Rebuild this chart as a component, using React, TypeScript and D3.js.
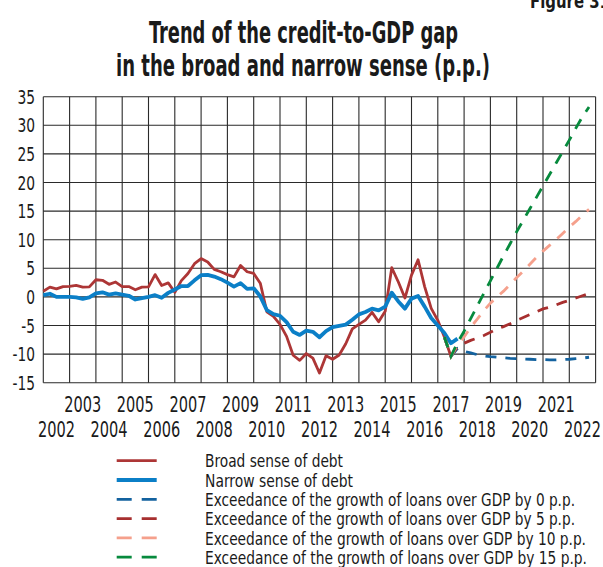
import * as d3 from 'd3';

// quarterly values, first point = 2002 Q1
const startYear = 2002;

const broadSense = [
  1.0, 1.7, 1.4, 1.8, 1.85, 2.0, 1.7, 1.75, 3.0, 2.9, 2.2, 2.6, 1.8, 1.8, 1.25, 1.7,
  1.75, 3.9, 2.0, 2.45, 0.8, 2.85, 4.1, 5.8, 6.7, 6.1, 4.8, 4.4, 3.9, 3.5, 5.5, 4.4,
  4.1, 2.4, -2.6, -3.4, -4.8, -6.9, -10.2, -11.1, -9.9, -10.7, -13.3, -10.3, -10.9, -10.15, -8.2, -5.6,
  -4.8, -4.05, -2.7, -4.35, -2.5, 5.1, 2.6, -0.2, 3.8, 6.5, 1.8, -2.0, -4.1, -7.0, -10.4,
];

const narrowSense = [
  0.3, 0.55, 0.0, 0.0, 0.0, -0.1, -0.35, -0.1, 0.6, 0.8, 0.4, 0.6, 0.4, 0.2, -0.45, -0.2,
  0.0, 0.3, -0.15, 0.7, 1.3, 1.9, 1.9, 2.9, 3.8, 3.85, 3.55, 3.1, 2.5, 1.8, 2.4, 1.4,
  1.5, 0.1, -2.3, -3.0, -3.3, -4.4, -6.1, -6.65, -5.9, -6.1, -7.05, -6.0, -5.3, -5.05, -4.85, -4.0,
  -3.05, -2.65, -2.05, -2.35, -1.7, 0.75, -0.8, -2.05, -0.3, 0.15, -1.7, -3.7, -5.0, -6.3, -8.1, -7.3,
];

// projections start at quarter index 61 (2017 Q2)
const projStart = 61;
const proj0 = [
  -7.0, -10.4, -9.0, -9.5, -9.8, -10.1, -10.3, -10.45, -10.55, -10.65, -10.75, -10.8,
  -10.85, -10.9, -10.95, -10.95, -11.0, -11.0, -10.95, -10.9, -10.8, -10.7, -10.55,
];
const proj5 = [
  -7.0, -10.4, -8.7, -8.1, -7.6, -7.2, -6.75, -6.2, -5.6, -5.2, -4.7, -4.1,
  -3.6, -3.1, -2.6, -2.1, -1.8, -1.4, -0.95, -0.6, -0.2, 0.2, 0.6,
];
const proj10 = [
  -7.0, -10.4, -8.4, -7.0, -5.3, -3.9, -2.4, -1.1, 0.0, 1.0, 2.2, 3.4,
  4.5, 5.7, 6.9, 8.0, 9.0, 10.0, 11.1, 12.2, 13.2, 14.3, 15.3,
];
const proj15 = [
  -7.0, -10.4, -8.0, -6.0, -3.8, -1.6, 0.6, 2.8, 5.0, 7.2, 9.3, 11.4,
  13.4, 15.4, 17.4, 19.4, 21.4, 23.4, 25.4, 27.4, 29.5, 31.5, 33.2,
];

const yTicks = [-15, -10, -5, 0, 5, 10, 15, 20, 25, 30, 35];
const years = [2002, 2003, 2004, 2005, 2006, 2007, 2008, 2009, 2010, 2011, 2012,
  2013, 2014, 2015, 2016, 2017, 2018, 2019, 2020, 2021, 2022];

const legendItems = [
  { label: 'Broad sense of debt', color: '#ad3636', dash: null, w: 2.8, len: 138 },
  { label: 'Narrow sense of debt', color: '#0b7fc7', dash: null, w: 3.8, len: 148 },
  { label: 'Exceedance of the growth of loans over GDP by 0 p.p.', color: '#13629f', dash: '15,10', w: 2.8, len: 370 },
  { label: 'Exceedance of the growth of loans over GDP by 5 p.p.', color: '#a72f2f', dash: '15,10', w: 2.8, len: 370 },
  { label: 'Exceedance of the growth of loans over GDP by 10 p.p.', color: '#f5a08c', dash: '15,10', w: 2.8, len: 381 },
  { label: 'Exceedance of the growth of loans over GDP by 15 p.p.', color: '#078a3d', dash: '15,10', w: 2.8, len: 382 },
];

const FONT = "'Liberation Sans Narrow', 'DejaVu Sans Condensed', 'Liberation Sans', Arial, sans-serif";

export default function App() {
  const left = 43.3;
  const right = 595.6;
  const top = 96.7;
  const bottom = 382.7;

  const x = d3.scaleLinear().domain([startYear, startYear + 21]).range([left, right]);
  const y = d3.scaleLinear().domain([-15, 35]).range([bottom, top]);

  const line = d3
    .line<number>()
    .x((_, i) => x(startYear + i / 4))
    .y((d) => y(d));
  const projLine = d3
    .line<number>()
    .x((_, i) => x(startYear + (projStart + i) / 4))
    .y((d) => y(d));

  const projections = [
    { data: proj0, color: legendItems[2].color },
    { data: proj5, color: legendItems[3].color },
    { data: proj10, color: legendItems[4].color },
    { data: proj15, color: legendItems[5].color },
  ];

  const gridX = d3.range(startYear, startYear + 22);
  const tickLen = (s: string, digit: number) =>
    s.split('').reduce((a, c) => a + (c === '-' ? digit * 0.55 : digit), 0);

  return (
    <svg
      width={603}
      height={567}
      style={{ position: 'absolute', left: 0, top: 0, background: '#fff' }}
      fontFamily={FONT}
    >
      <rect width={603} height={567} fill="#fff" />
      <text x={530} y={8} fontSize={20} fontWeight="bold" textLength={80} lengthAdjust="spacingAndGlyphs" fill="#1a1a1a">
        Figure 31
      </text>
      <text x={303.5} y={43.3} textAnchor="middle" fontSize={31} fontWeight="bold" textLength={309} lengthAdjust="spacingAndGlyphs" fill="#1a1a1a">
        Trend of the credit-to-GDP gap
      </text>
      <text x={303} y={76} textAnchor="middle" fontSize={31} fontWeight="bold" textLength={374} lengthAdjust="spacingAndGlyphs" fill="#1a1a1a">
        in the broad and narrow sense (p.p.)
      </text>

      {/* grid */}
      <g stroke="#2a2a2a" strokeWidth={1.1}>
        {yTicks.map((t) => (
          <line key={'h' + t} x1={left} x2={right} y1={y(t)} y2={y(t)} />
        ))}
        {gridX.map((g) => (
          <line key={'v' + g} x1={x(g)} x2={x(g)} y1={top} y2={bottom} />
        ))}
      </g>

      {/* y labels */}
      <g fontSize={19.5} fill="#1a1a1a" textAnchor="end">
        {yTicks.map((t) => {
          const s = String(t);
          return (
            <text key={'yl' + t} x={35} y={y(t)} dy="0.36em" textLength={tickLen(s, 8.8)} lengthAdjust="spacingAndGlyphs">
              {s}
            </text>
          );
        })}
      </g>

      {/* x labels, two rows */}
      <g fontSize={21} fill="#1a1a1a" textAnchor="middle">
        {years.map((yr) => (
          <text
            key={'xl' + yr}
            x={x(yr + 0.5)}
            y={yr % 2 === 1 ? 404 : 429}
            dy="0.36em"
            textLength={37}
            lengthAdjust="spacingAndGlyphs"
          >
            {yr}
          </text>
        ))}
      </g>

      {/* series */}
      <path d={line(broadSense) ?? ''} fill="none" stroke="#ad3636" strokeWidth={2.8} strokeLinejoin="round" />
      <path d={line(narrowSense) ?? ''} fill="none" stroke="#0b7fc7" strokeWidth={3.8} strokeLinejoin="round" />
      {projections.map((p, k) => (
        <path
          key={'p' + k}
          d={projLine(p.data) ?? ''}
          fill="none"
          stroke={p.color}
          strokeWidth={2.8}
          strokeDasharray="11,9"
        />
      ))}

      {/* legend */}
      <g>
        {legendItems.map((it, k) => {
          const base = 467.3 + k * 19.3;
          return (
            <g key={'lg' + k}>
              <line
                x1={116.7}
                x2={156.7}
                y1={base - 6.6}
                y2={base - 6.6}
                stroke={it.color}
                strokeWidth={it.w}
                strokeDasharray={it.dash ?? undefined}
              />
              <text x={205} y={base} fontSize={17.5} fill="#1a1a1a" textLength={it.len} lengthAdjust="spacingAndGlyphs">
                {it.label}
              </text>
            </g>
          );
        })}
      </g>
    </svg>
  );
}
